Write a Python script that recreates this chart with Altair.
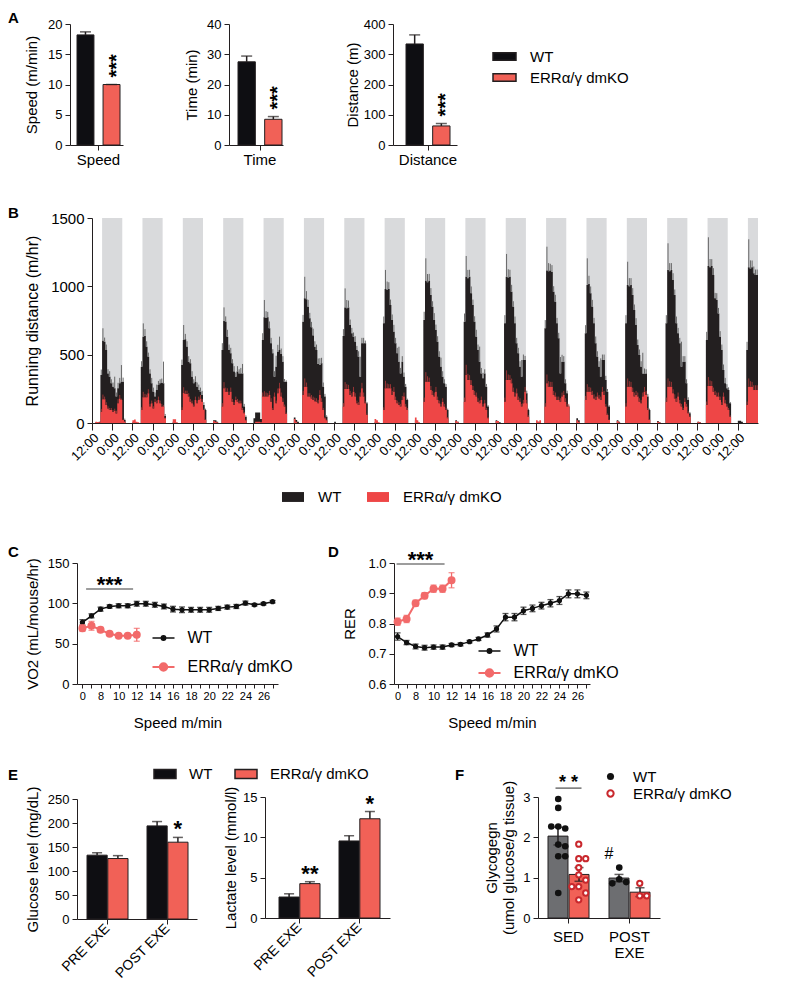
import json
import altair as alt
import pandas as pd

# ======================= DATA =======================
GENO = ["WT", "ERRα/γ dmKO"]

# ---- Panel A ----
A_METRICS = ["Speed", "Time", "Distance"]
A_YTITLES = ["Speed (m/min)", "Time  (min)", "Distance (m)"]
A_WT = [18.2, 27.5, 334.0]
A_WT_ERR = [0.5, 1.9, 30.0]
A_KO = [10.0, 8.5, 63.0]
A_KO_ERR = [0.0, 0.9, 8.0]
A_YMAX = [20, 40, 400]
A_YSTEP = [5, 10, 100]
A_SIG = ["***", "***", "***"]

# ---- Panel B (hourly running distance, one list per night, 12:00 -> 07:00) ----
B_HOURS = 396
B_TICK_LABELS = ["12:00", "0:00"]
B_YTICKS = [0, 500, 1000, 1500]
WT_NIGHTS = [
    [0, 0, 5, 5, 10, 351, 602, 595, 534, 363, 339, 290, 266, 254, 193, 254, 290, 302, 302, 22],
    [5, 5, 0, 0, 0, 412, 632, 637, 558, 485, 363, 290, 229, 193, 241, 278, 290, 295, 290, 51],
    [10, 5, 0, 0, 0, 424, 607, 612, 558, 449, 437, 339, 290, 302, 266, 241, 229, 205, 132, 95],
    [20, 20, 10, 0, 0, 534, 746, 740, 632, 534, 510, 437, 376, 339, 376, 363, 363, 363, 120, 46],
    [34, 76, 76, 76, 30, 607, 773, 768, 773, 693, 583, 510, 339, 412, 522, 534, 505, 449, 302, 302],
    [40, 22, 10, 0, 0, 741, 912, 905, 851, 766, 700, 640, 558, 534, 432, 424, 437, 266, 193, 46],
    [10, 0, 0, 0, 0, 637, 846, 840, 846, 717, 656, 632, 595, 534, 485, 339, 583, 583, 583, 144],
    [5, 0, 0, 0, 0, 729, 980, 975, 980, 863, 754, 668, 583, 510, 449, 363, 449, 339, 266, 168],
    [20, 10, 0, 0, 0, 754, 1041, 1030, 1041, 937, 851, 754, 680, 595, 485, 412, 339, 290, 266, 95],
    [20, 10, 0, 0, 0, 741, 1071, 1060, 1071, 949, 863, 741, 632, 534, 449, 363, 327, 363, 266, 120],
    [20, 10, 5, 0, 0, 729, 1071, 1065, 1071, 961, 851, 729, 583, 510, 412, 339, 461, 461, 217, 95],
    [10, 10, 0, 0, 0, 693, 1115, 1110, 1115, 1105, 961, 888, 729, 620, 363, 449, 449, 290, 217, 120],
    [34, 20, 0, 0, 0, 656, 1010, 1017, 949, 851, 729, 583, 485, 412, 339, 461, 461, 315, 229, 120],
    [20, 10, 0, 0, 0, 729, 1010, 1000, 1010, 937, 827, 717, 571, 498, 412, 363, 359, 363, 193, 95],
    [15, 5, 0, 0, 0, 729, 1120, 1110, 1120, 1046, 937, 729, 656, 583, 412, 449, 449, 290, 168, 71],
    [10, 5, 0, 0, 0, 607, 1149, 1140, 1149, 1083, 912, 900, 802, 632, 534, 388, 290, 254, 241, 144],
    [17, 17, 10, 0, 0, 534, 1139, 1130, 1139, 1095, 1083, 1083],
]
KO_NIGHTS = [
    [0, 0, 10, 8, 5, 83, 173, 173, 132, 107, 95, 95, 80, 90, 70, 144, 180, 168, 22, 10],
    [20, 25, 10, 5, 0, 95, 188, 188, 188, 217, 120, 144, 107, 156, 144, 168, 144, 120, 120, 34],
    [27, 27, 5, 0, 0, 95, 222, 212, 212, 193, 156, 144, 120, 168, 144, 168, 180, 156, 95, 22],
    [15, 10, 5, 0, 0, 120, 254, 229, 229, 205, 229, 156, 132, 168, 156, 144, 144, 95, 71, 20],
    [0, 10, 10, 10, 5, 193, 193, 193, 193, 205, 156, 95, 193, 144, 217, 254, 193, 156, 120, 66],
    [30, 10, 0, 0, 0, 205, 266, 266, 193, 193, 180, 168, 160, 156, 144, 205, 156, 95, 34, 20],
    [0, 0, 0, 0, 0, 120, 249, 249, 249, 205, 193, 229, 193, 144, 132, 193, 254, 193, 144, 59],
    [30, 20, 5, 0, 0, 95, 254, 254, 254, 254, 205, 229, 168, 144, 132, 120, 168, 193, 120, 95],
    [40, 20, 5, 0, 0, 156, 302, 302, 302, 241, 205, 193, 229, 168, 144, 120, 156, 120, 95, 34],
    [15, 10, 0, 0, 0, 156, 351, 315, 315, 278, 241, 205, 193, 156, 144, 168, 120, 144, 95, 34],
    [15, 15, 0, 0, 0, 156, 315, 315, 315, 290, 229, 193, 217, 168, 156, 120, 144, 229, 144, 46],
    [20, 10, 20, 0, 0, 120, 290, 266, 266, 266, 205, 193, 168, 168, 156, 193, 205, 156, 120, 120],
    [20, 10, 0, 0, 0, 168, 229, 229, 229, 205, 180, 168, 193, 180, 168, 229, 205, 120, 59, 22],
    [15, 5, 0, 0, 0, 120, 266, 266, 266, 229, 193, 205, 193, 156, 144, 193, 229, 205, 95, 22],
    [10, 5, 0, 0, 0, 156, 266, 266, 266, 217, 180, 156, 193, 144, 120, 95, 156, 120, 71, 46],
    [10, 5, 0, 0, 0, 132, 271, 271, 271, 229, 205, 193, 193, 168, 132, 193, 144, 120, 95, 46],
    [0, 0, 0, 0, 0, 132, 266, 266, 266, 241, 241, 241],
]
# SEM per hour, from 17:00 of each night
WT_NIGHT_ERR = [
    [40, 91, 30, 40, 30, 40, 30, 30, 85, 30, 40, 40, 122, 30, 10],
    [40, 97, 50, 40, 30, 30, 40, 30, 30, 40, 30, 30, 30, 159, 15],
    [40, 110, 40, 40, 40, 30, 40, 30, 40, 30, 40, 30, 30, 20, 10],
    [50, 100, 40, 50, 40, 40, 30, 40, 30, 40, 30, 40, 69, 20, 10],
    [50, 127, 50, 40, 50, 40, 30, 40, 80, 50, 98, 40, 40, 20, 10],
    [50, 158, 60, 50, 40, 40, 50, 40, 40, 40, 50, 40, 30, 20, 10],
    [50, 139, 60, 50, 40, 40, 30, 40, 30, 40, 146, 40, 40, 20, 10],
    [50, 140, 60, 50, 40, 40, 50, 40, 40, 109, 40, 40, 30, 20, 10],
    [60, 164, 60, 50, 50, 40, 50, 40, 40, 40, 66, 40, 30, 20, 10],
    [60, 151, 60, 50, 50, 40, 40, 50, 40, 110, 40, 40, 30, 20, 10],
    [60, 166, 60, 50, 50, 40, 50, 40, 40, 40, 122, 40, 30, 20, 10],
    [60, 175, 60, 50, 50, 40, 50, 40, 40, 120, 50, 40, 30, 20, 10],
    [60, 195, 60, 50, 50, 40, 50, 40, 40, 134, 40, 40, 30, 20, 10],
    [60, 170, 60, 50, 50, 40, 50, 40, 40, 40, 151, 40, 30, 20, 10],
    [60, 195, 60, 50, 50, 40, 50, 40, 40, 183, 40, 40, 30, 20, 10],
    [60, 210, 60, 50, 50, 40, 50, 40, 40, 40, 40, 40, 30, 20, 10],
    [60, 205, 60, 50, 50, 40, 40],
]
KO_NIGHT_ERR = [
    [20, 35, 20, 20, 15, 15, 15, 15, 15, 20, 30, 25, 10, 5, 5],
    [20, 40, 25, 20, 30, 20, 20, 15, 20, 20, 25, 20, 20, 10, 5],
    [20, 40, 25, 25, 25, 20, 20, 15, 25, 20, 25, 25, 20, 10, 5],
    [25, 45, 30, 25, 25, 30, 20, 20, 25, 20, 20, 20, 15, 10, 5],
    [30, 40, 30, 25, 30, 25, 15, 30, 20, 35, 40, 30, 25, 15, 10],
    [30, 60, 30, 25, 25, 25, 25, 25, 25, 25, 35, 25, 15, 10, 5],
    [25, 50, 35, 30, 30, 25, 35, 25, 20, 20, 30, 40, 30, 15, 10],
    [20, 55, 35, 30, 30, 30, 35, 25, 20, 20, 20, 30, 30, 20, 15],
    [30, 70, 40, 30, 30, 30, 30, 35, 25, 20, 20, 25, 20, 15, 10],
    [30, 75, 45, 35, 35, 30, 30, 30, 25, 20, 25, 20, 25, 15, 10],
    [30, 70, 40, 35, 35, 30, 30, 35, 25, 25, 20, 25, 35, 25, 10],
    [25, 65, 40, 35, 35, 30, 30, 25, 25, 25, 30, 30, 25, 20, 20],
    [30, 55, 35, 30, 30, 30, 25, 30, 25, 25, 35, 30, 20, 10, 5],
    [25, 60, 40, 35, 30, 30, 30, 30, 25, 25, 30, 35, 30, 15, 5],
    [30, 60, 40, 35, 30, 30, 25, 30, 25, 20, 15, 25, 20, 15, 10],
    [25, 65, 40, 35, 30, 30, 30, 30, 25, 20, 30, 25, 20, 15, 10],
    [25, 60, 40, 35, 35, 35, 35],
]

# ---- Panels C / D ----
SPEEDS = [0, 4, 8, 9, 10, 11, 12, 13, 14, 15, 16, 17, 18, 19, 20, 21, 22, 23, 24, 25, 26, 27]
VO2_WT = [76.3, 84.5, 92.8, 96.1, 97.0, 97.0, 99.5, 99.5, 98.2, 96.1, 92.8, 92.0, 92.0, 92.0, 92.0,
          93.7, 95.3, 96.1, 100.3, 98.2, 99.5, 102.0]
VO2_WT_ERR = [3.5, 2.5, 2.5, 2.0, 2.5, 2.5, 3.0, 3.0, 3.0, 3.0, 3.5, 3.5, 3.0, 3.0, 3.0, 2.5, 2.5,
              2.5, 2.5, 1.5, 1.5, 1.5]
VO2_KO = [69.2, 72.1, 67.1, 62.2, 59.7, 59.7, 61.0]
VO2_KO_ERR = [4.0, 5.5, 3.0, 2.0, 1.5, 1.5, 8.0]
RER_WT = [0.757, 0.737, 0.724, 0.720, 0.722, 0.722, 0.729, 0.731, 0.740, 0.749, 0.762, 0.782, 0.821,
          0.821, 0.842, 0.850, 0.859, 0.867, 0.876, 0.898, 0.898, 0.893]
RER_WT_ERR = [0.012, 0.007, 0.008, 0.008, 0.007, 0.007, 0.005, 0.005, 0.004, 0.005, 0.007, 0.010,
              0.012, 0.012, 0.012, 0.011, 0.011, 0.012, 0.013, 0.013, 0.013, 0.011]
RER_KO = [0.806, 0.815, 0.867, 0.892, 0.915, 0.915, 0.943]
RER_KO_ERR = [0.012, 0.012, 0.010, 0.010, 0.012, 0.012, 0.025]
CD_SIG = "***"

# ---- Panel E ----
E_GROUPS = ["PRE EXE", "POST EXE"]
GLU_WT = [133, 194]
GLU_WT_ERR = [5, 9]
GLU_KO = [126, 160]
GLU_KO_ERR = [6, 10]
GLU_SIG = ["", "*"]
LAC_WT = [2.6, 9.55]
LAC_WT_ERR = [0.4, 0.65]
LAC_KO = [4.26, 12.3]
LAC_KO_ERR = [0.24, 0.9]
LAC_SIG = ["**", "*"]

# ---- Panel F ----
F_GROUPS = ["SED", "POST EXE"]
GLY_WT_MEAN = [2.03, 0.99]
GLY_WT_SEM = [0.22, 0.09]
GLY_KO_MEAN = [1.08, 0.64]
GLY_KO_SEM = [0.17, 0.11]
GLY_WT_PTS = [[2.95, 2.73, 2.27, 2.22, 2.27, 1.82, 1.78, 1.53, 1.53, 0.62], [1.25, 0.96, 0.89, 0.86]]
GLY_KO_PTS = [[1.83, 1.47, 1.47, 1.25, 1.07, 0.94, 0.78, 0.78, 0.62, 0.45], [0.86, 0.55, 0.55]]
F_SIG = "* *"
F_HASH = "#"

# ======================= STYLE / LAYOUT =======================
W, H, OFF = 771, 974, 8
FONT = "Liberation Sans"
INK = "#231f20"
BAR_BLACK = "#0e0e12"
BAR_RED = "#f16157"
B_BLACK = "#231f20"
B_RED = "#ee4646"
B_GRAY = "#d9dadc"
LINE_RED = "#f26a6a"
F_GRAY = "#6d6e71"
F_PT_RED = "#c9282d"


def px(v):
    return v - OFF


def band_params(a0, a1, b0, bw, step, n):
    pi = 1 - bw / step
    rem = (a1 - a0) - step * (n - pi)
    return dict(paddingInner=pi, paddingOuter=rem / (2 * step), align=(b0 - a0) / rem)


def left_axis(ax_x, title, values, title_cx, label_size=13, title_size=15, fmt=None, tick=5):
    kw = dict(orient="left", offset=-px(ax_x), values=values, grid=False, labelFontSize=label_size,
              tickSize=tick, labelPadding=3, title=title, titleX=title_cx - ax_x,
              titleBaseline="middle", titleFontSize=title_size, titleFontWeight="normal",
              titleLineHeight=17)
    if fmt:
        kw["format"] = fmt
    return alt.Axis(**kw)


def bottom_axis(ax_y, label_size=13, angle=0, values=None, label_expr=None, tick=5, pad=3,
                title=None, title_cy=None, line_h=None, baseline=None):
    kw = dict(orient="bottom", offset=px(ax_y) - H, grid=False, labelFontSize=label_size,
              labelAngle=angle, tickSize=tick, labelPadding=pad, labelOverlap=False, labelFlush=False)
    if values is not None:
        kw["values"] = values
    if label_expr:
        kw["labelExpr"] = label_expr
    if line_h:
        kw["labelLineHeight"] = line_h
    if baseline:
        kw["labelBaseline"] = baseline
    if title:
        kw.update(title=title, titleY=title_cy - ax_y, titleBaseline="middle", titleFontSize=15,
                  titleFontWeight="normal")
    else:
        kw["title"] = None
    return alt.Axis(**kw)


def legend(x, y, sym, size, offset, font=15, direction="vertical", col_pad=10, row_pad=2, sw=None):
    kw = dict(orient="none", legendX=px(x), legendY=px(y), direction=direction, title=None,
              symbolType=sym, symbolSize=size, labelOffset=offset, labelFontSize=font,
              columnPadding=col_pad, rowPadding=row_pad, padding=0, labelFont=FONT,
              labelColor="black", labelLimit=300)
    if sw is not None:
        kw["symbolStrokeWidth"] = sw
    return alt.Legend(**kw)


def rect_path(h):
    return f"M-1,-{h}H1V{h}H-1Z"


def line_dot_path(r):
    return f"M-1,0H1M-{r},0A{r},{r},0,1,0,{r},0A{r},{r},0,1,0,-{r},0Z"


def bar_panel(cats, wt, wt_err, ko, ko_err, sig, colors, ax, yrng, ydom, band, sub_pad, xaxis,
              yaxis, leg=None, cap=10, sym=False, star=None):
    a0, a1 = ax
    b0, bw, step = band
    rows = []
    for i, c in enumerate(cats):
        for g, m, e, s in ((GENO[0], wt[i], wt_err[i], ""), (GENO[1], ko[i], ko_err[i], sig[i] if sig else "")):
            rows.append({"cat": c, "geno": g, "mean": m, "lo": (m - e) if sym else m, "hi": m + e,
                         "sig": s})
    df = pd.DataFrame(rows)
    xs = alt.Scale(domain=cats, range=[px(a0), px(a1)], **band_params(a0, a1, b0, bw, step, len(cats)))
    xo = alt.Scale(domain=GENO, paddingInner=sub_pad, paddingOuter=0)
    ys = alt.Scale(domain=ydom, range=[px(yrng[0]), px(yrng[1])], nice=False, zero=False)
    XA = alt.X("cat:N", scale=xs, axis=xaxis, sort=cats)
    XO = alt.XOffset("geno:N", scale=xo, sort=GENO)
    base = alt.Chart(df)
    bars = base.mark_bar(stroke=INK, strokeWidth=1).encode(
        x=XA, xOffset=XO, y=alt.Y("mean:Q", scale=ys, axis=yaxis),
        color=alt.Color("geno:N", scale=alt.Scale(domain=GENO, range=colors), legend=leg))
    rule = base.mark_rule(color=INK, strokeWidth=1.5).encode(
        x=XA, xOffset=XO, y=alt.Y("lo:Q", scale=ys, axis=yaxis), y2="hi:Q")
    layers = [bars, rule,
              base.mark_tick(color=INK, thickness=1.5, size=cap).encode(
                  x=XA, xOffset=XO, y=alt.Y("hi:Q", scale=ys, axis=yaxis))]
    if sym:
        layers.append(base.mark_tick(color=INK, thickness=1.5, size=cap).encode(
            x=XA, xOffset=XO, y=alt.Y("lo:Q", scale=ys, axis=yaxis)))
    if star is not None:
        layers.append(base.mark_text(color="black", fontWeight="bold", **star).encode(
            x=XA, xOffset=XO, y=alt.Y("hi:Q", scale=ys, axis=yaxis), text="sig:N"))
    return layers, xs, XA, XO, ys


panels = []

# ---------------- Panel A ----------------
A_GEOM = [(70, 123, 77, 43), (229, 283, 238, 44), (393, 457, 406, 44)]
A_TITLE_X = [31, 191, 352.5]
for i in range(3):
    a0, a1, b0, bw = A_GEOM[i]
    leg = legend(492, 44, rect_path(0.33), 529, 13, font=15, row_pad=-2) if i == 0 else None
    layers = bar_panel(
        [A_METRICS[i]], [A_WT[i]], [A_WT_ERR[i]], [A_KO[i]], [A_KO_ERR[i]], [A_SIG[i]],
        [BAR_BLACK, BAR_RED], (a0, a1), (145, 24), [0, A_YMAX[i]], (b0, bw, bw), 0.35,
        bottom_axis(145, label_size=15, pad=2),
        left_axis(a0, A_YTITLES[i], list(range(0, A_YMAX[i] + 1, A_YSTEP[i])), A_TITLE_X[i]),
        leg=leg, cap=11,
        star=dict(fontSize=20, angle=270, align="left", baseline="middle", dx=7, dy=5))[0]
    panels.append(alt.layer(*layers))

# ---------------- Panel B ----------------
def hourly(nights, start=0):
    vals = [0.0] * (B_HOURS + 1)
    for n, seq in enumerate(nights):
        for k, v in enumerate(seq):
            h = 24 * n + start + k
            if h < B_HOURS:
                vals[h] = float(v)
    return vals


wt_h, ko_h = hourly(WT_NIGHTS), hourly(KO_NIGHTS)
wt_e, ko_e = hourly(WT_NIGHT_ERR, 5), hourly(KO_NIGHT_ERR, 5)
hours = list(range(B_HOURS + 1))
df_wt = pd.DataFrame({"hour": hours, "value": wt_h, "geno": GENO[0]})
df_ko = pd.DataFrame({"hour": hours, "value": ko_h, "geno": GENO[1]})


def err_df(vals, errs):
    return pd.DataFrame([{"hc": h + 0.5, "lo": vals[h], "hi": vals[h] + errs[h]}
                         for h in range(B_HOURS) if errs[h] > 0 and vals[h] > 0])


df_bands = pd.DataFrame([{"s": 6 + 24 * n, "e": min(18 + 24 * n, B_HOURS), "bot": 0, "top": B_YTICKS[-1]}
                         for n in range(len(WT_NIGHTS))])
bx = alt.Scale(domain=[0, B_HOURS], range=[px(92), px(758)], nice=False, zero=False)
by = alt.Scale(domain=[0, B_YTICKS[-1]], range=[px(423), px(218)], nice=False)
b_lexpr = f"datum.value % 24 == 0 ? '{B_TICK_LABELS[0]}' : '{B_TICK_LABELS[1]}'"
b_xaxis = bottom_axis(423, label_size=13, angle=-45, values=list(range(0, 385, 12)),
                      label_expr=b_lexpr, tick=7, pad=1)
b_yaxis = left_axis(92, "Running distance (m/hr)", B_YTICKS, 32, label_size=15, title_size=16, fmt="d")
b_leg = legend(281, 485, rect_path(0.45), 484, 13, font=15, direction="horizontal", col_pad=24)
b_color = alt.Color("geno:N", scale=alt.Scale(domain=GENO, range=[B_BLACK, B_RED]), legend=b_leg)
BXa = dict(scale=bx, axis=b_xaxis)
BYa = dict(scale=by, axis=b_yaxis)
bands = alt.Chart(df_bands).mark_rect(color=B_GRAY).encode(
    x=alt.X("s:Q", **BXa), x2="e:Q", y=alt.Y("bot:Q", **BYa), y2="top:Q")
wt_area = alt.Chart(df_wt).mark_area(interpolate="step-after").encode(
    x=alt.X("hour:Q", **BXa), y=alt.Y("value:Q", **BYa), color=b_color)
ko_area = alt.Chart(df_ko).mark_area(interpolate="step-after").encode(
    x=alt.X("hour:Q", **BXa), y=alt.Y("value:Q", **BYa), color=b_color)
wt_err = alt.Chart(err_df(wt_h, wt_e)).mark_rule(color="#5a5a5a", strokeWidth=1, opacity=0.9).encode(
    x=alt.X("hc:Q", **BXa), y=alt.Y("lo:Q", **BYa), y2="hi:Q")
ko_err = alt.Chart(err_df(ko_h, ko_e)).mark_rule(color="#b53a3a", strokeWidth=1, opacity=0.8).encode(
    x=alt.X("hc:Q", **BXa), y=alt.Y("lo:Q", **BYa), y2="hi:Q")
panels.append(alt.layer(bands, wt_area, wt_err, ko_area, ko_err))

# ---------------- Panels C / D ----------------
SPEED_LABELS = [str(s) for s in SPEEDS]
cd_lexpr = f"indexof({json.dumps(SPEED_LABELS[::2])}, datum.label) >= 0 ? datum.label : ''"


def series(mean, err, name, color, xs, ys, xaxis, yaxis, pt, lw, cap, leg):
    n = len(mean)
    df = pd.DataFrame({"speed": SPEED_LABELS[:n], "idx": list(range(n)), "mean": mean,
                       "lo": [m - e for m, e in zip(mean, err)], "hi": [m + e for m, e in zip(mean, err)],
                       "geno": [name] * n})
    base = alt.Chart(df)
    XA = alt.X("speed:O", scale=xs, axis=xaxis, sort=SPEED_LABELS)
    line = base.mark_line(color=color, strokeWidth=lw).encode(
        x=XA, y=alt.Y("mean:Q", scale=ys, axis=yaxis), order="idx:Q")
    rule = base.mark_rule(color=color, strokeWidth=1.3).encode(
        x=XA, y=alt.Y("lo:Q", scale=ys, axis=yaxis), y2="hi:Q")
    c1 = base.mark_tick(color=color, thickness=1.3, size=cap).encode(
        x=XA, y=alt.Y("lo:Q", scale=ys, axis=yaxis))
    c2 = base.mark_tick(color=color, thickness=1.3, size=cap).encode(
        x=XA, y=alt.Y("hi:Q", scale=ys, axis=yaxis))
    pts = base.mark_point(filled=True, size=pt, opacity=1, stroke=color, strokeWidth=lw).encode(
        x=XA, y=alt.Y("mean:Q", scale=ys, axis=yaxis),
        color=alt.Color("geno:N", scale=alt.Scale(domain=[name], range=[color]), legend=leg))
    return alt.layer(line, rule, c1, c2, pts)


def cd_panel(wt, wt_err, ko, ko_err, ax, yrng, ydom, yvals, ytitle, ytitle_x, fmt, pad, leg_x, leg_y,
             sig_y, sig_size, sig_dx):
    xs = alt.Scale(type="point", domain=SPEED_LABELS, range=[px(ax[0]), px(ax[1])], padding=pad)
    ys = alt.Scale(domain=ydom, range=[px(yrng[0]), px(yrng[1])], nice=False, zero=False)
    xaxis = bottom_axis(yrng[0], label_size=11, label_expr=cd_lexpr, tick=4, pad=2,
                        title="Speed m/min", title_cy=722)
    yaxis = left_axis(ax[0], ytitle, yvals, ytitle_x, fmt=fmt)
    wt_l = series(wt, wt_err, GENO[0], "#111111", xs, ys, xaxis, yaxis, 14, 1.5, 6,
                  legend(leg_x, leg_y[0], line_dot_path(0.2), 484, 12, font=16, sw=1.5))
    ko_l = series(ko, ko_err, GENO[1], LINE_RED, xs, ys, xaxis, yaxis, 36, 2, 6,
                  legend(leg_x, leg_y[1], line_dot_path(0.34), 484, 12, font=16, sw=2))
    sdf = pd.DataFrame({"x": ["9"], "y": [sig_y], "t": [CD_SIG]})
    sbase = alt.Chart(sdf).encode(x=alt.X("x:O", scale=xs, axis=xaxis, sort=SPEED_LABELS),
                                  y=alt.Y("y:Q", scale=ys, axis=yaxis))
    srule = sbase.mark_tick(color="#444444", thickness=1.5, size=sig_size, xOffset=sig_dx)
    stext = sbase.mark_text(fontSize=22, fontWeight="bold", color="black", baseline="alphabetic",
                            dy=3, dx=sig_dx).encode(text="t:N")
    return alt.layer(wt_l, ko_l, srule, stext).resolve_scale(color="independent")


panels.append(cd_panel(VO2_WT, VO2_WT_ERR, VO2_KO, VO2_KO_ERR, (77, 278), (684, 563), [0, 150],
                       [0, 50, 100, 150], "VO2 (mL/mouse/hr)", 32, None, 0.6, 151.5, (626, 655),
                       117.8, 47, 0))
panels.append(cd_panel(RER_WT, RER_WT_ERR, RER_KO, RER_KO_ERR, (394, 590), (684, 563), [0.6, 1.0],
                       [0.6, 0.7, 0.8, 0.9, 1.0], "RER", 349, ".1f", 0.4, 477.5, (639, 661),
                       0.997, 48, -4))

# ---------------- Panel E ----------------
e_star = dict(fontSize=22, align="center", baseline="alphabetic", dy=-1)
e1 = bar_panel(E_GROUPS, GLU_WT, GLU_WT_ERR, GLU_KO, GLU_KO_ERR, GLU_SIG, [BAR_BLACK, BAR_RED],
               (77, 197), (919, 799), [0, 250], (87, 41, 60), 0.03,
               bottom_axis(919, label_size=14, angle=-45, pad=2, baseline="middle"),
               left_axis(77, "Glucose level (mg/dL)", [0, 50, 100, 150, 200, 250], 32),
               leg=legend(153, 762, rect_path(0.4), 484, 12, font=15, direction="horizontal",
                          col_pad=19),
               cap=10, star=e_star)[0]
panels.append(alt.layer(*e1))
e2 = bar_panel(E_GROUPS, LAC_WT, LAC_WT_ERR, LAC_KO, LAC_KO_ERR, LAC_SIG, [BAR_BLACK, BAR_RED],
               (265, 390), (918, 797), [0, 15], (279, 41, 60), 0.03,
               bottom_axis(918, label_size=14, angle=-45, pad=2, baseline="middle"),
               left_axis(265, "Lactate level (mmol/l)", [0, 5, 10, 15], 230),
               leg=None, cap=10, star=e_star)[0]
panels.append(alt.layer(*e2))

# ---------------- Panel F ----------------
f_lexpr = "datum.label == 'POST EXE' ? ['POST', 'EXE'] : datum.label"
f_xaxis = bottom_axis(918, label_size=15, label_expr=f_lexpr, pad=6, line_h=16)
f_yaxis = left_axis(538, ["Glycogegn", "(umol glucose/g tissue)"], [0, 1, 2, 3], 491.5)
f_layers, fxs, fXA, fXO, fys = bar_panel(
    F_GROUPS, GLY_WT_MEAN, GLY_WT_SEM, GLY_KO_MEAN, GLY_KO_SEM, None, [F_GRAY, BAR_RED],
    (538, 660), (918, 797), [0, 3], (548, 41, 61), 0.05, f_xaxis, f_yaxis,
    leg=None, cap=9, sym=True)
F_BW = 41


def swarm(values, center, dx=0.34, min_dv=0.17):
    placed, out = [], []
    for v in values:
        o = center
        for k in (0, 1, -1, 2, -2, 3, -3):
            o = center + k * dx
            if all(abs(o - po) > dx * 0.9 or abs(v - pv) >= min_dv for po, pv in placed):
                break
        placed.append((o, v))
        out.append(o)
    return out


pts_rows = {GENO[0]: [], GENO[1]: []}
for gi, g in enumerate(F_GROUPS):
    for vals, geno, side in ((GLY_WT_PTS[gi], GENO[0], -0.5), (GLY_KO_PTS[gi], GENO[1], 0.5)):
        for v, o in zip(vals, swarm(vals, side)):
            pts_rows[geno].append({"cat": g, "geno": geno, "val": v, "jit": o})

jit_scale = alt.Scale(domain=[-1, 1], range=[0, F_BW])
FY = alt.Y("val:Q", scale=fys, axis=f_yaxis)
f_wt_pts = alt.Chart(pd.DataFrame(pts_rows[GENO[0]])).mark_point(filled=True, size=44, opacity=1).encode(
    x=fXA, xOffset=alt.XOffset("jit:Q", scale=jit_scale), y=FY,
    color=alt.Color("geno:N", scale=alt.Scale(domain=[GENO[0]], range=["#111111"]),
                    legend=legend(603, 769, "circle", 50, 15, font=15)))
f_ko_pts = alt.Chart(pd.DataFrame(pts_rows[GENO[1]])).mark_point(
    filled=False, fill="white", fillOpacity=1, size=28, strokeWidth=2, opacity=1).encode(
    x=fXA, xOffset=alt.XOffset("jit:Q", scale=jit_scale), y=FY,
    color=alt.Color("geno:N", scale=alt.Scale(domain=[GENO[1]], range=[F_PT_RED]),
                    legend=legend(603, 786, "circle", 40, 15, font=15, sw=2)))
fsig = alt.Chart(pd.DataFrame({"cat": [F_GROUPS[0]], "y": [3.22], "t": [F_SIG]})).encode(
    x=fXA, y=alt.Y("y:Q", scale=fys, axis=f_yaxis))
fsig_rule = fsig.mark_tick(color="#333333", thickness=1.5, size=26)
fsig_text = fsig.mark_text(fontSize=18, fontWeight="bold", color="black", baseline="alphabetic",
                           dy=0).encode(text="t:N")
fhash = alt.Chart(pd.DataFrame({"cat": [F_GROUPS[1]], "geno": [GENO[0]], "y": [max(GLY_WT_PTS[1])],
                                "t": [F_HASH]})).mark_text(
    fontSize=16, color="black", baseline="alphabetic", dy=-9).encode(
    x=fXA, xOffset=fXO, y=alt.Y("y:Q", scale=fys, axis=f_yaxis), text="t:N")
panels.append(alt.layer(*f_layers, f_wt_pts, f_ko_pts, fsig_rule, fsig_text, fhash).resolve_scale(
    color="independent", xOffset="independent"))

# ---------------- Panel letters ----------------
LETTERS = [("A", 8, 23), ("B", 8, 218), ("C", 8, 557), ("D", 328, 557), ("E", 8, 780), ("F", 455, 780)]
for t, x, y in LETTERS:
    panels.append(alt.Chart(pd.DataFrame({"t": [t]})).mark_text(
        align="left", baseline="alphabetic", fontSize=15, fontWeight="bold", color="black").encode(
        x=alt.value(px(x)), y=alt.value(px(y)), text="t:N"))

chart = alt.layer(*panels).resolve_scale(
    x="independent", y="independent", color="independent", xOffset="independent"
).properties(
    width=W, height=H, autosize=alt.AutoSizeParams(type="none"), padding=0
).configure(font=FONT).configure_view(stroke=None).configure_axis(
    domainColor=INK, tickColor=INK, labelColor="black", titleColor="black", labelFont=FONT,
    titleFont=FONT, domainWidth=1, tickWidth=1, grid=False
).configure_legend(labelFont=FONT)

chart.save("out.html", embed_options={"renderer": "svg", "actions": False})
